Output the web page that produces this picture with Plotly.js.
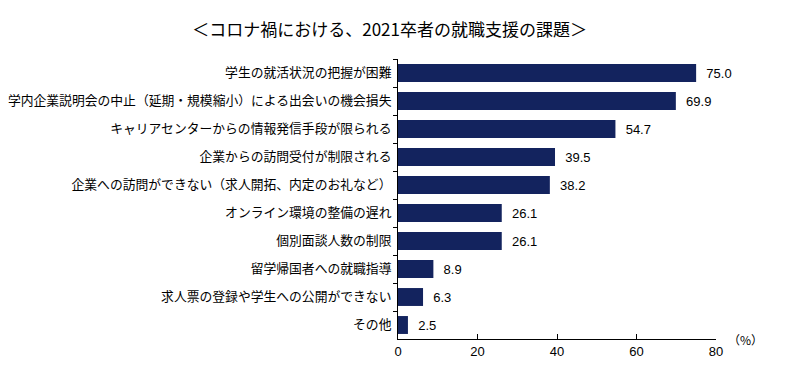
<!DOCTYPE html>
<html><head><meta charset="utf-8">
<script src="https://cdn.plot.ly/plotly-3.0.1.min.js"></script>
<style>html,body{margin:0;padding:0;background:#fff;}</style>
</head><body>
<div id="chart" style="width:800px;height:379px;"></div>
<script>
const categories = [
  "学生の就活状況の把握が困難",
  "学内企業説明会の中止（延期・規模縮小）による出会いの機会損失",
  "キャリアセンターからの情報発信手段が限られる",
  "企業からの訪問受付が制限される",
  "企業への訪問ができない（求人開拓、内定のお礼など）",
  "オンライン環境の整備の遅れ",
  "個別面談人数の制限",
  "留学帰国者への就職指導",
  "求人票の登録や学生への公開ができない",
  "その他"
];
const values = [75.0, 69.9, 54.7, 39.5, 38.2, 26.1, 26.1, 8.9, 6.3, 2.5];
const xTicks = [0, 20, 40, 60, 80];
const titleText = "＜コロナ禍における、2021卒者の就職支援の課題＞";
const unitText = "（%）";

const font = "'Noto Sans CJK JP', 'Noto Sans', sans-serif";
const numFont = "'Liberation Sans', Arial, sans-serif";

Plotly.newPlot("chart", [{
  type: "bar",
  orientation: "h",
  y: categories,
  x: values,
  marker: {color: "#13235e"},
  width: 0.64,
  text: values.map(v => v.toFixed(1)),
  texttemplate: "  %{text}",
  textposition: "outside",
  textfont: {family: numFont, size: 13, color: "#000"},
  cliponaxis: false,
  hoverinfo: "none"
}], {
  width: 800, height: 379,
  margin: {l: 398, r: 84, t: 59, b: 40},
  paper_bgcolor: "#fff", plot_bgcolor: "#fff",
  font: {family: font, size: 12, color: "#000"},
  title: {text: titleText, x: 0.487, xanchor: "center", y: 0.92, yanchor: "middle", font: {family: font, size: 17, color: "#000"}},
  showlegend: false,
  xaxis: {
    range: [0, 80], tickvals: xTicks, ticktext: xTicks.map(String),
    showline: true, linecolor: "#000", linewidth: 1,
    ticks: "inside", ticklen: 5, tickcolor: "#000",
    showgrid: false, zeroline: false,
    tickfont: {family: numFont, size: 13, color: "#000"}
  },
  yaxis: {
    type: "category", autorange: "reversed",
    showline: true, linecolor: "#000", linewidth: 1,
    ticks: "outside", ticklen: 4, tickcolor: "#000", tickson: "boundaries",
    ticklabelstandoff: 3,
    showgrid: false, zeroline: false,
    tickfont: {family: font, size: 12.8, color: "#000"}
  },
  annotations: [{
    text: unitText, xref: "paper", yref: "paper", x: 1.03, y: 0.0, xanchor: "left", yanchor: "middle",
    showarrow: false, font: {family: font, size: 12, color: "#000"}
  }]
}, {displayModeBar: false, staticPlot: true});
</script>
</body></html>
